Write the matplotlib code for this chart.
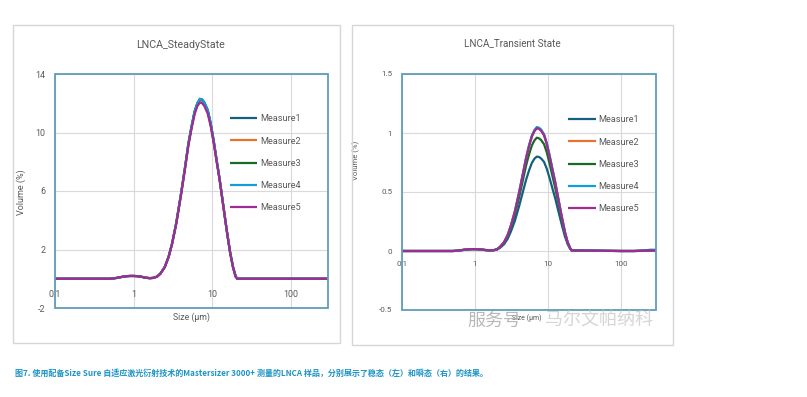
import matplotlib.pyplot as plt
from matplotlib.patches import Rectangle
from matplotlib.ticker import FuncFormatter

plt.rcParams['font.family'] = ['Roboto', 'DejaVu Sans']
plt.rcParams['axes.unicode_minus'] = False

# particle size (um), shared by every series
size_um = [0.1, 0.5, 0.6, 0.7, 0.8, 0.9, 1.0, 1.1, 1.25, 1.4, 1.6, 1.8, 2.0, 2.2, 2.5, 2.8,
           3.1, 3.5, 4.0, 4.5, 5.0, 5.5, 6.0, 6.5, 7.0, 7.5, 8.0, 8.8, 9.6, 10.5, 11.5,
           12.5, 14.0, 15.5, 17.0, 18.5, 20.0, 21.0, 100, 150, 200, 250, 300]

# steady state, volume %
steady_m1 = [0, 0, 0.05, 0.12, 0.17, 0.19, 0.19, 0.18, 0.14, 0.08, 0.04, 0.06, 0.15, 0.35, 0.8, 1.5,
             2.4, 3.8, 5.7, 7.5, 9.2, 10.4, 11.4, 11.95, 12.25, 12.2, 12.0, 11.5, 10.6, 9.4, 8.0,
             6.8, 4.9, 3.2, 1.8, 0.8, 0.15, 0, 0, 0, 0, 0, 0]
steady_m2 = [0, 0, 0.05, 0.12, 0.17, 0.19, 0.19, 0.18, 0.14, 0.08, 0.04, 0.06, 0.15, 0.35, 0.8, 1.5,
             2.4, 3.8, 5.7, 7.5, 9.2, 10.4, 11.35, 11.9, 12.2, 12.15, 11.95, 11.45, 10.55, 9.35, 8.0,
             6.8, 4.9, 3.2, 1.8, 0.8, 0.15, 0, 0, 0, 0, 0, 0]
steady_m3 = [0, 0, 0.05, 0.12, 0.17, 0.19, 0.19, 0.18, 0.14, 0.08, 0.04, 0.06, 0.15, 0.35, 0.8, 1.5,
             2.4, 3.8, 5.7, 7.5, 9.25, 10.45, 11.45, 12.0, 12.3, 12.25, 12.05, 11.55, 10.65, 9.45, 8.05,
             6.8, 4.9, 3.2, 1.8, 0.8, 0.15, 0, 0, 0, 0, 0, 0]
steady_m4 = [0, 0, 0.05, 0.12, 0.17, 0.19, 0.19, 0.18, 0.14, 0.08, 0.04, 0.06, 0.15, 0.35, 0.8, 1.5,
             2.4, 3.8, 5.7, 7.5, 9.25, 10.45, 11.45, 12.0, 12.3, 12.25, 12.05, 11.55, 10.65, 9.45, 8.05,
             6.8, 4.9, 3.2, 1.8, 0.8, 0.15, 0, 0, 0, 0, 0, 0]
steady_m5 = [0, 0, 0.05, 0.12, 0.17, 0.19, 0.19, 0.18, 0.14, 0.08, 0.04, 0.06, 0.15, 0.35, 0.8, 1.5,
             2.4, 3.75, 5.6, 7.4, 9.1, 10.3, 11.25, 11.8, 12.05, 12.0, 11.8, 11.3, 10.45, 9.3, 7.95,
             6.75, 4.85, 3.2, 1.8, 0.8, 0.15, 0, 0, 0, 0, 0, 0]

# transient state, volume %
transient_m1 = [0, 0, 0.004, 0.010, 0.014, 0.016, 0.016, 0.015, 0.012, 0.008, 0.005, 0.007, 0.012, 0.027,
                0.058, 0.104, 0.166, 0.254, 0.377, 0.497, 0.604, 0.685, 0.747, 0.782, 0.80, 0.797, 0.785,
                0.755, 0.697, 0.616, 0.527, 0.447, 0.323, 0.216, 0.123, 0.058, 0.019, 0.004, 0, 0,
                0.004, 0.010, 0.010]
transient_m2 = [0, 0, 0.004, 0.010, 0.014, 0.016, 0.016, 0.015, 0.012, 0.008, 0.005, 0.007, 0.015, 0.035,
                0.075, 0.136, 0.216, 0.332, 0.492, 0.648, 0.789, 0.895, 0.975, 1.02, 1.045, 1.04, 1.025,
                0.985, 0.91, 0.804, 0.688, 0.583, 0.422, 0.281, 0.161, 0.075, 0.025, 0.005, 0, 0,
                0.002, 0.004, 0.004]
transient_m3 = [0, 0, 0.004, 0.009, 0.013, 0.015, 0.015, 0.014, 0.011, 0.007, 0.005, 0.006, 0.014, 0.032,
                0.069, 0.125, 0.198, 0.305, 0.452, 0.595, 0.725, 0.821, 0.895, 0.937, 0.96, 0.955, 0.941,
                0.905, 0.835, 0.738, 0.632, 0.535, 0.388, 0.258, 0.148, 0.069, 0.023, 0.005, 0, 0,
                0.002, 0.004, 0.004]
transient_m4 = [0, 0, 0.004, 0.010, 0.014, 0.016, 0.016, 0.015, 0.012, 0.008, 0.005, 0.007, 0.015, 0.036,
                0.076, 0.137, 0.218, 0.335, 0.495, 0.652, 0.793, 0.90, 0.98, 1.025, 1.05, 1.045, 1.03,
                0.99, 0.914, 0.81, 0.692, 0.586, 0.425, 0.283, 0.162, 0.076, 0.025, 0.005, 0, 0,
                0.002, 0.004, 0.004]
transient_m5 = [0, 0, 0.004, 0.010, 0.014, 0.016, 0.016, 0.015, 0.012, 0.008, 0.005, 0.007, 0.015, 0.035,
                0.075, 0.135, 0.215, 0.33, 0.49, 0.645, 0.785, 0.89, 0.97, 1.015, 1.04, 1.035, 1.02,
                0.98, 0.905, 0.80, 0.685, 0.58, 0.42, 0.28, 0.16, 0.075, 0.025, 0.005, 0, 0,
                0.002, 0.004, 0.004]

labels = ['Measure1', 'Measure2', 'Measure3', 'Measure4', 'Measure5']
colors = ['#156082', '#E97132', '#196B24', '#0F9ED5', '#A02B93']
x_ticks = [0.1, 1, 10, 100]
x_ticklabels = ['0.1', '1', '10', '100']

txt = '#595959'
frame_col = '#5f9db8'
grid_col = '#d9d9d9'

fig = plt.figure(figsize=(8.07, 3.97), dpi=100)

# panel outlines
W, H = 807, 397
for x0, y0, x1, y1 in [(13, 25, 340, 343), (352, 25, 673, 345)]:
    fig.patches.append(Rectangle((x0 / W, 1 - y1 / H), (x1 - x0) / W, (y1 - y0) / H,
                                 transform=fig.transFigure, fill=False,
                                 edgecolor='#d6d6d6', lw=1.0))


def panel(rect, series, title, ylim, yticks, fs, title_xy, ylab_xy, xlab_xy, leg_xy, pad_x):
    ax = fig.add_axes(rect)
    ax.set_xscale('log')
    for ys, lab, c in zip(series, labels, colors):
        ax.plot(size_um, ys, color=c, lw=1.6, label=lab, solid_capstyle='butt')
    ax.set_xlim(0.1, 300)
    ax.set_ylim(*ylim)
    ax.set_yticks(yticks)
    ax.yaxis.set_major_formatter(FuncFormatter(lambda v, p: f'{v:g}'))
    ax.set_xticks(x_ticks)
    ax.set_xticklabels(x_ticklabels)
    ax.minorticks_off()
    ax.grid(True, color=grid_col, lw=0.8)
    ax.set_axisbelow(True)
    for s in ['top', 'right', 'left']:
        ax.spines[s].set_visible(False)
    ax.spines['bottom'].set_position(('data', 0))
    ax.spines['bottom'].set_visible(False)
    ax.add_patch(Rectangle((0, 0), 1, 1, transform=ax.transAxes, fill=False,
                           edgecolor=frame_col, lw=1.3, clip_on=False, zorder=3))
    ax.tick_params(axis='both', length=0, colors=txt, labelsize=fs)
    ax.tick_params(axis='x', pad=pad_x)
    ax.tick_params(axis='y', pad=7)
    ax.text(title_xy[0], title_xy[1], title, transform=ax.transAxes, ha='center', va='center',
            fontsize=fs + 1.3, color=txt)
    ax.set_ylabel('Volume (%)', fontsize=ylab_xy[2], color=txt)
    ax.yaxis.set_label_coords(ylab_xy[0], ylab_xy[1])
    ax.text(xlab_xy[0], xlab_xy[1], 'Size (μm)', transform=ax.transAxes, ha='center', va='center',
            fontsize=xlab_xy[2], color=txt)
    ax.legend(loc='upper left', bbox_to_anchor=leg_xy, frameon=False, fontsize=6.6,
              labelcolor=txt, handlelength=3.0, handletextpad=0.3, labelspacing=1.45,
              borderpad=0, borderaxespad=0)
    return ax


panel([55 / W, 1 - 308 / H, 273 / W, 234 / H],
      [steady_m1, steady_m2, steady_m3, steady_m4, steady_m5],
      'LNCA_SteadyState', (-2, 14), [-2, 2, 6, 10, 14], 6.4,
      (0.458, 1.124), (-0.106, 0.496, 6.5), (0.50, -0.038, 6.3), (0.641, 0.828), 8)

panel([402 / W, 1 - 310 / H, 254 / W, 236 / H],
      [transient_m1, transient_m2, transient_m3, transient_m4, transient_m5],
      'LNCA_Transient State', (-0.5, 1.5), [-0.5, 0, 0.5, 1, 1.5], 5.8,
      (0.433, 1.131), (-0.165, 0.636, 5.6), (0.49, -0.034, 5.0), (0.654, 0.825), 7)

# watermark
fig.text(467 / W, 1 - 321 / H, '服务号', fontsize=13, color='#a8a8a8', alpha=0.8,
         family=['Noto Sans CJK SC'], va='center', ha='left')
fig.text(545 / W, 1 - 321 / H, '马尔文帕纳科', fontsize=13, color='#c4c4c4', alpha=0.7,
         family=['Noto Sans CJK SC'], va='center', ha='left')

# caption
fig.text(15 / W, 1 - 373 / H,
         '图7. 使用配备Size Sure 自适应激光衍射技术的Mastersizer 3000+ 测量的LNCA 样品，分别展示了稳态（左）和瞬态（右）的结果。',
         fontsize=5.8, fontweight='bold', color='#1b93c6', family=['Noto Sans CJK SC', 'DejaVu Sans'],
         va='center', ha='left')

fig.savefig('out.png', dpi=100)
